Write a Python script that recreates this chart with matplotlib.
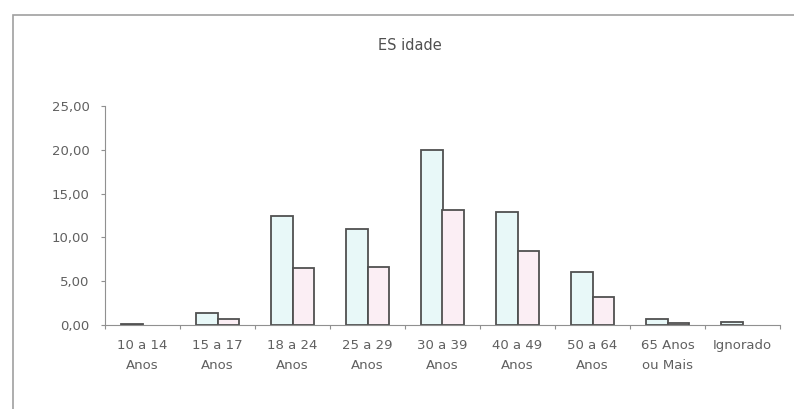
import numpy as np
import matplotlib.pyplot as plt
from matplotlib.patches import Rectangle

# faixas etarias e percentuais (duas series)
faixas = ['10 a 14\nAnos', '15 a 17\nAnos', '18 a 24\nAnos', '25 a 29\nAnos',
          '30 a 39\nAnos', '40 a 49\nAnos', '50 a 64\nAnos', '65 Anos\nou Mais',
          'Ignorado']
serie1 = [0.15, 1.40, 12.40, 10.95, 20.00, 12.95, 6.00, 0.70, 0.35]
serie2 = [0.00, 0.65, 6.50, 6.60, 13.10, 8.50, 3.20, 0.20, 0.00]
yticks = [0, 5, 10, 15, 20, 25]

fig = plt.figure(figsize=(7.94, 4.09), dpi=100)
fig.patches.append(Rectangle((13/794, -0.01), 1.0, 1 - 15/409 + 0.01,
                             transform=fig.transFigure, fill=False,
                             edgecolor='#a0a0a0', lw=1.2))

ax = fig.add_axes([105/794, 1 - 325/409, (780 - 105)/794, (325 - 106)/409])

x = np.arange(len(faixas))
w = 0.29
# barras de valor zero nao aparecem no original
s1 = np.ma.masked_equal(serie1, 0)
s2 = np.ma.masked_equal(serie2, 0)
ax.bar(x - w/2, s1, w, color='#e8f8f8', edgecolor='#505050', lw=1.3)
ax.bar(x + w/2, s2, w, color='#fbeef4', edgecolor='#505050', lw=1.3)

ax.set_xlim(-0.5, len(faixas) - 0.5)
ax.set_ylim(0, 25)
ax.set_yticks(yticks)
ax.yaxis.set_major_formatter(plt.FuncFormatter(lambda v, p: ('%.2f' % v).replace('.', ',')))

ax.set_xticks(np.arange(len(faixas) + 1) - 0.5)
ax.set_xticklabels([])
ax.set_xticks(x, minor=True)
ax.set_xticklabels(faixas, minor=True, linespacing=1.75)
ax.tick_params(axis='x', which='minor', length=0, pad=10, labelsize=9.5, labelcolor='#606060')
ax.tick_params(axis='x', which='major', length=3, color='#909090')
ax.tick_params(axis='y', length=3, color='#909090', pad=8, labelsize=9.5, labelcolor='#606060')

for s in ['top', 'right']:
    ax.spines[s].set_visible(False)
ax.spines['left'].set_color('#909090')
ax.spines['bottom'].set_color('#909090')

fig.text(410/794, 1 - 46/409, 'ES idade', ha='center', va='center',
         fontsize=10.5, color='#505050')

plt.savefig('out.png')
